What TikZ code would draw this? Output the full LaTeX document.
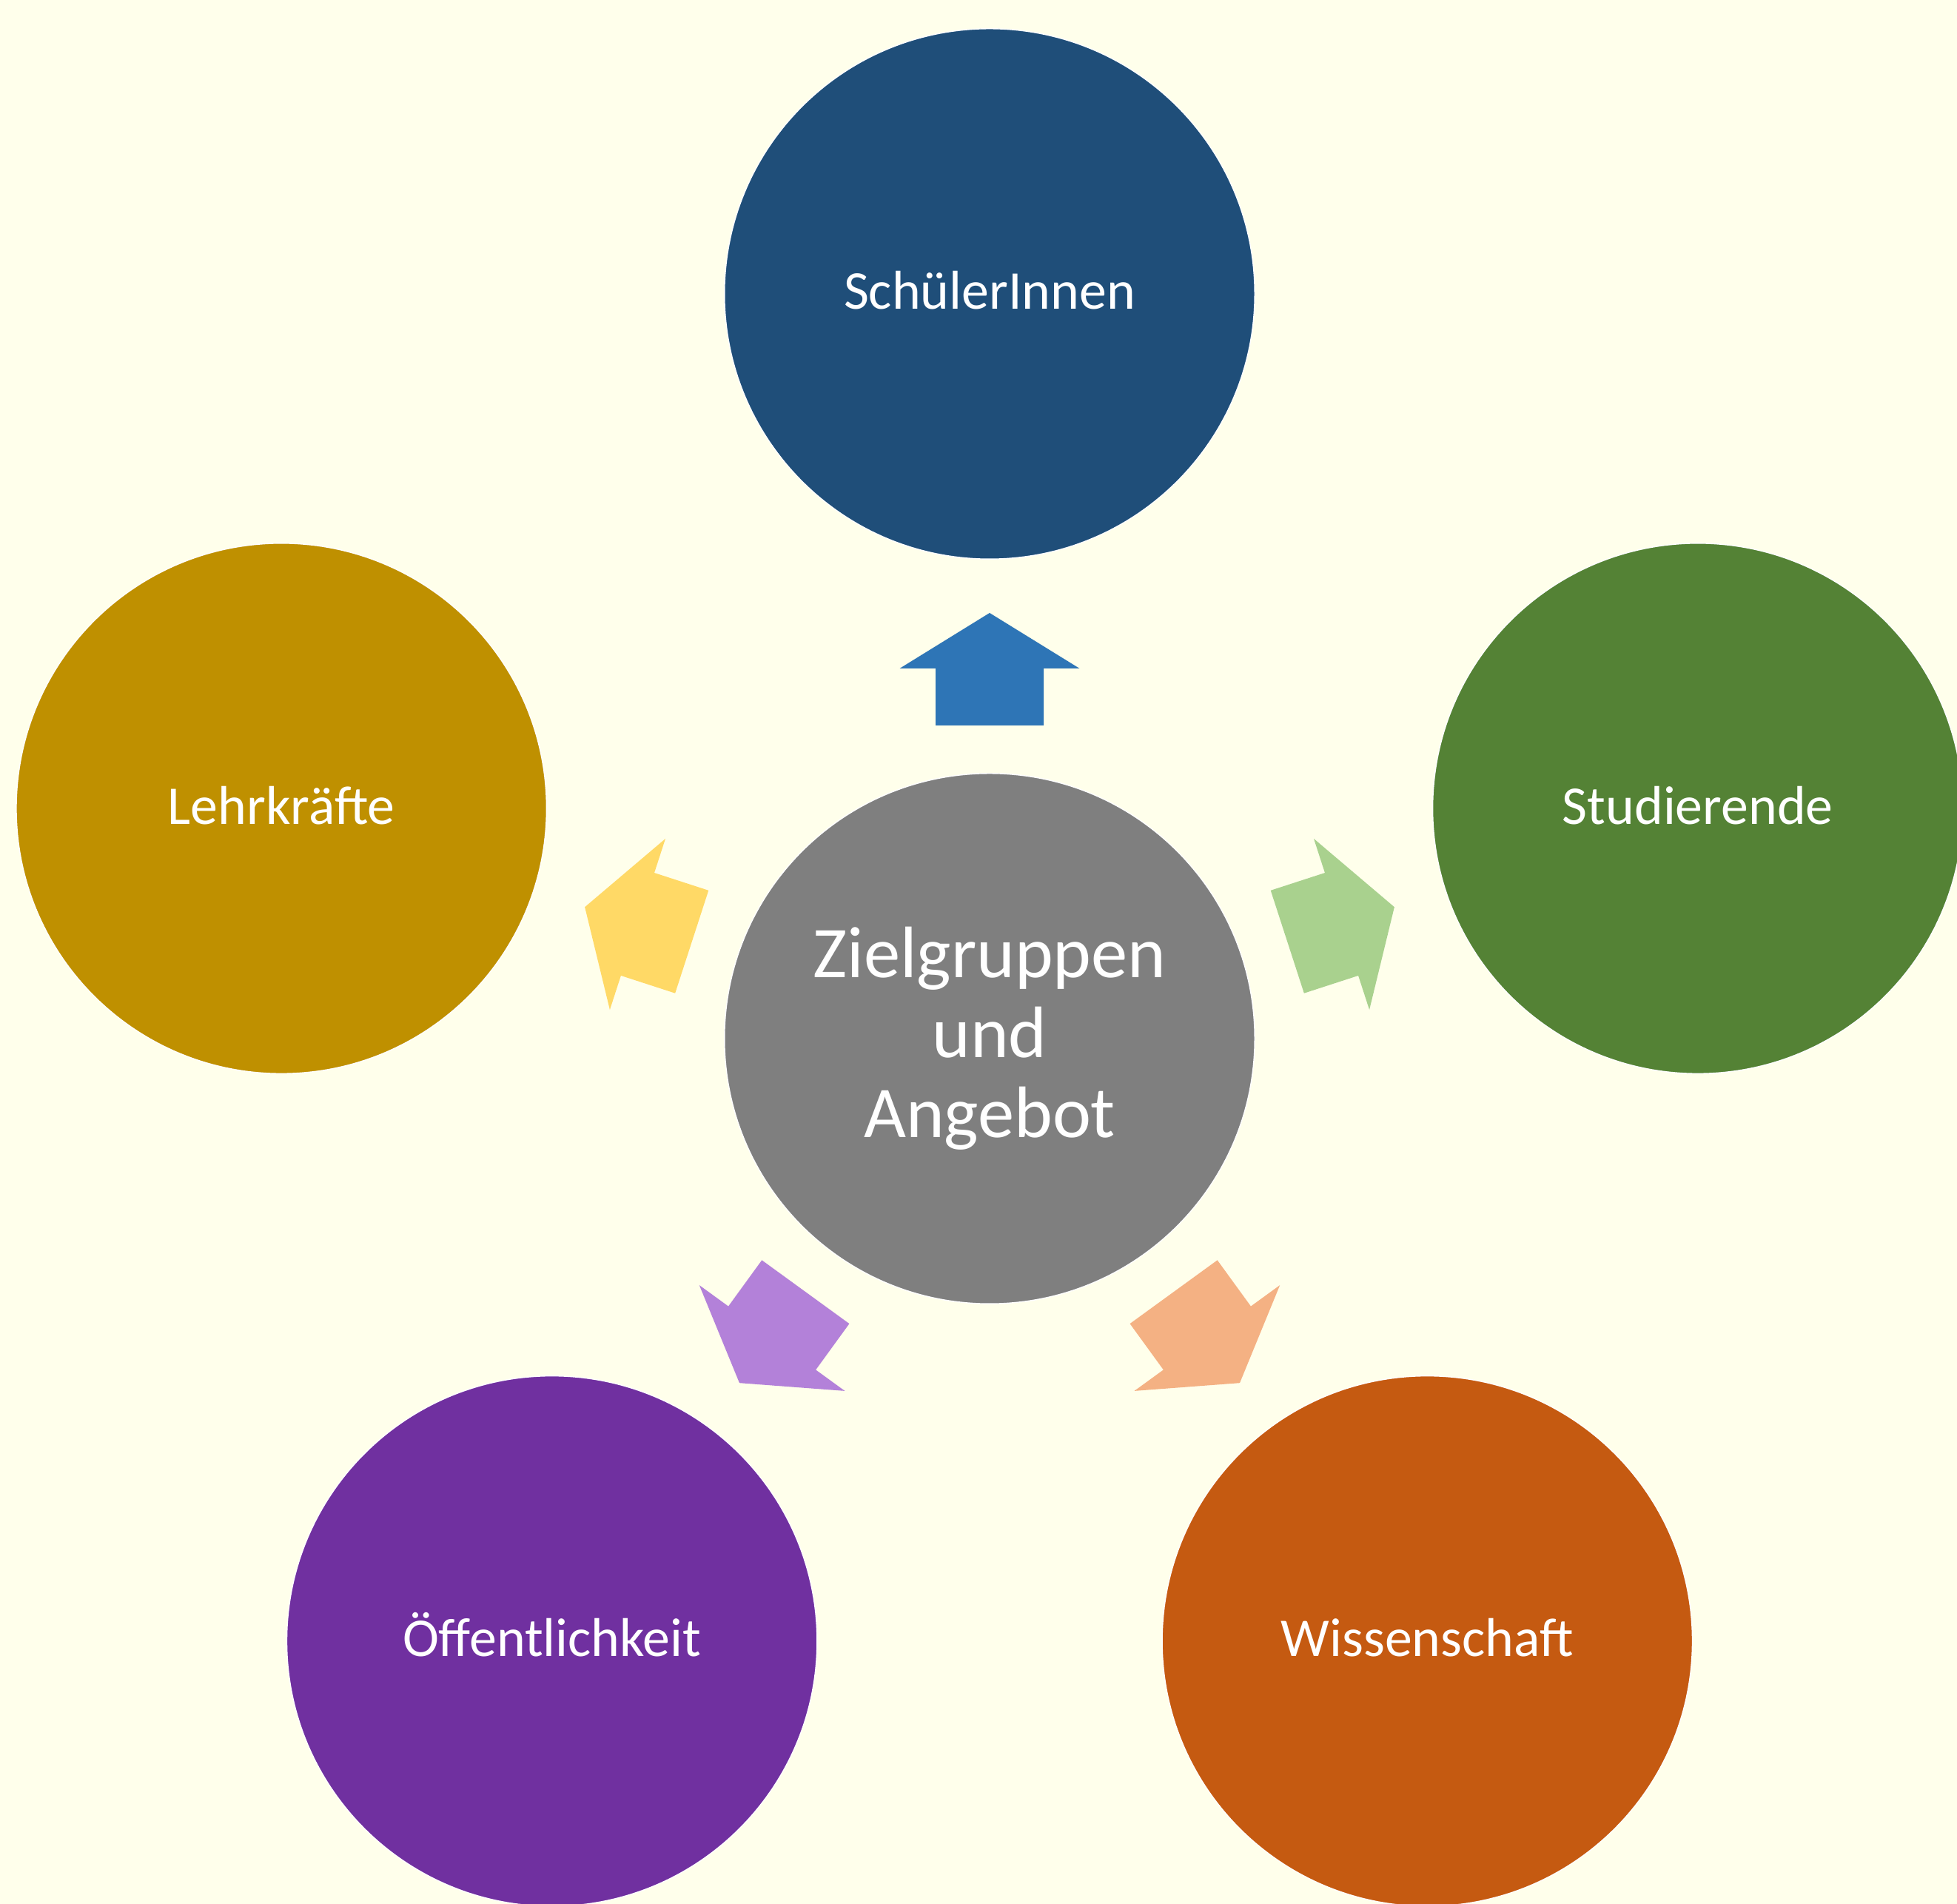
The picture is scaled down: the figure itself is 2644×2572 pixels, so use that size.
\documentclass[tikz,border=0pt]{standalone}
\usepackage{fontspec}
\setmainfont{Carlito}
\definecolor{bgcol}{HTML}{FFFFEB}
\definecolor{cgray}{HTML}{7F7F7F}
\definecolor{cblue}{HTML}{1F4E79}
\definecolor{cgreen}{HTML}{548235}
\definecolor{cgold}{HTML}{BF9000}
\definecolor{cpurple}{HTML}{7030A0}
\definecolor{corange}{HTML}{C55A11}
\definecolor{ablue}{HTML}{2E75B6}
\definecolor{agreen}{HTML}{A9D18E}
\definecolor{agold}{HTML}{FFD966}
\definecolor{apurple}{HTML}{B381D9}
\definecolor{aorange}{HTML}{F4B183}
\begin{document}
\begin{tikzpicture}[x=0.01cm,y=0.01cm,
  bubble/.style={circle, draw=white, line width=0.4pt, minimum size=7.16cm,
    inner sep=0pt, text=white},
  outer/.style={bubble, font=\fontsize{21}{25}\selectfont, text height=0.42cm, text depth=0pt},
  middle/.style={bubble, align=center, font=\fontsize{28}{30.7}\selectfont},
  barrow/.pic={\fill[pic actions] (423,-73) -- (500,-73) -- (500,-121.5) -- (575,0)
     -- (500,121.5) -- (500,73) -- (423,73) -- cycle;}
]
\fill[bgcol] (0,0) rectangle (2644,2572);
\useasboundingbox (0,0) rectangle (2644,2572);
\clip (0,0) rectangle (2644,2572);

\node[middle, fill=cgray] (c) at (1337,1169) {Zielgruppen\\und\\Angebot};

\node[outer, fill=cblue]   (s) at (1337,2175)     {SchülerInnen};
\node[outer, fill=cgreen]  (st) at (2293.8,1479.9) {Studierende};
\node[outer, fill=corange] (w) at (1928.3,355.1)  {Wissenschaft};
\node[outer, fill=cpurple] (o) at (745.7,355.1)   {Öffentlichkeit};
\node[outer, fill=cgold]   (l) at (380.2,1479.9)  {Lehrkräfte};

\pic[rotate=90,   fill=ablue]   at (c.center) {barrow};
\pic[rotate=18,   fill=agreen]  at (c.center) {barrow};
\pic[rotate=-54,  fill=aorange] at (c.center) {barrow};
\pic[rotate=-126, fill=apurple] at (c.center) {barrow};
\pic[rotate=162,  fill=agold]   at (c.center) {barrow};
\end{tikzpicture}
\end{document}
